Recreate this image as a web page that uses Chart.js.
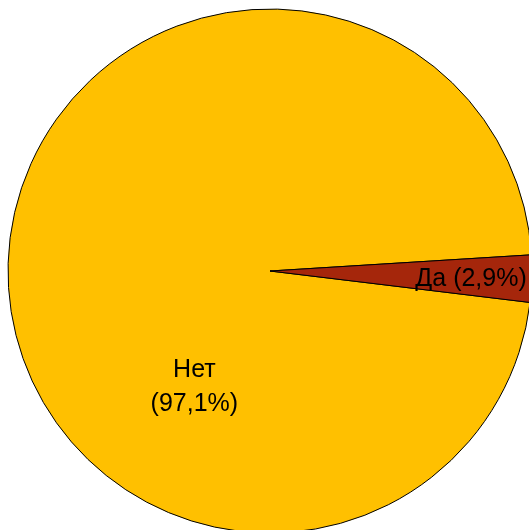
<!DOCTYPE html>
<html>
<head>
<meta charset="utf-8">
<script src="https://cdn.jsdelivr.net/npm/chart.js@4.4.1/dist/chart.umd.min.js"></script>
<style>
  html, body { margin: 0; padding: 0; background: #fff; overflow: hidden; }
  #wrap { position: absolute; left: 0; top: 0; }
</style>
</head>
<body>
<div id="wrap"><canvas id="pie" width="540" height="542"></canvas></div>
<script>
(function() {

  const categories = ['Нет', 'Да'];
  const values = [97.1, 2.9];
  const valueLabels = ['97,1%', '2,9%'];
  const colors = ['#FFC000', '#A5260B'];

  // label placement: angle (deg, clockwise from 3 o'clock) and share of radius
  const labelSpots = [
    { angle: 123, dist: 0.53, lines: i => [categories[i], '(' + valueLabels[i] + ')'] },
    { angle: 2.3, dist: 0.768, lines: i => [categories[i] + ' (' + valueLabels[i] + ')'] }
  ];

  const sliceLabels = {
    id: 'sliceLabels',
    afterDatasetsDraw(chart) {
      const ctx = chart.ctx;
      const arcs = chart.getDatasetMeta(0).data;
      ctx.save();
      ctx.fillStyle = '#000';
      ctx.font = '25px "Liberation Sans", Arial, sans-serif';
      ctx.textAlign = 'center';
      ctx.textBaseline = 'middle';
      arcs.forEach((arc, i) => {
        const spot = labelSpots[i];
        const a = spot.angle * Math.PI / 180;
        const cx = arc.x + Math.cos(a) * arc.outerRadius * spot.dist;
        const cy = arc.y + Math.sin(a) * arc.outerRadius * spot.dist;
        const lines = spot.lines(i);
        const lh = 34;
        lines.forEach((t, k) => {
          ctx.fillText(t, cx, cy + (k - (lines.length - 1) / 2) * lh);
        });
      });
      ctx.restore();
    }
  };

  new Chart(document.getElementById('pie').getContext('2d'), {
    type: 'pie',
    data: {
      labels: categories,
      datasets: [{
        data: values,
        backgroundColor: colors,
        borderColor: '#000',
        borderWidth: 1
      }]
    },
    options: {
      responsive: false,
      animation: false,
      rotation: 96.9,
      radius: 262,
      layout: { padding: 0 },
      plugins: {
        legend: { display: false },
        tooltip: { enabled: false }
      }
    },
    plugins: [sliceLabels]
  });
})();
</script>
</body>
</html>
